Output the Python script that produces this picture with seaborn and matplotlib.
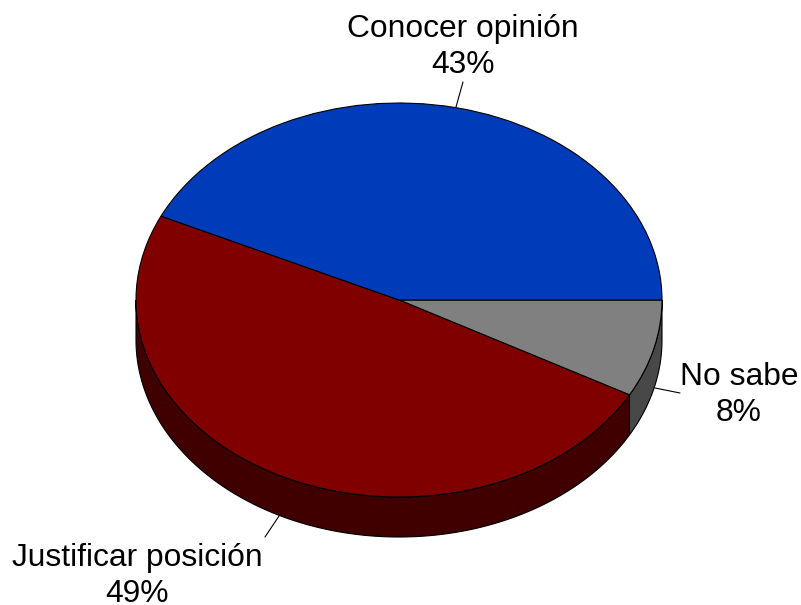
import numpy as np
import matplotlib
matplotlib.use("Agg")
import matplotlib.pyplot as plt
import seaborn as sns

labels = ["No sabe", "Justificar posición", "Conocer opinión"]
values = [8, 49, 43]
top_colors = ["#808080", "#800000", "#003cb9"]
side_colors = ["#484848", "#400000", "#001c5c"]

sns.set_theme(style="white")
plt.rcParams["font.family"] = ["Liberation Sans", "DejaVu Sans"]

# pixel geometry of the reference
W, H = 801, 605
cx, cy, rx, ry, depth = 399, 300, 263, 197, 40

fig = plt.figure(figsize=(W / 100, H / 100), dpi=100)
ax = fig.add_axes([0, 0, 1, 1])

angles = np.concatenate([[0], np.cumsum(values) / np.sum(values) * 360])
d = depth / ry

# side wall, only the part facing the viewer (y axis points down)
for i, c in enumerate(side_colors):
    a0, a1 = angles[i], angles[i + 1]
    if a0 >= 180:
        continue
    t = np.radians(np.linspace(a0, min(a1, 180), 200))
    xs = np.cos(t)
    ys = np.sin(t)
    ax.fill(np.r_[xs, xs[::-1]], np.r_[ys, ys[::-1] + d], fc=c, ec="black", lw=0.8, zorder=1)

wedges, _ = ax.pie(values, colors=top_colors, startangle=0, counterclock=True, radius=1,
                   wedgeprops=dict(edgecolor="black", linewidth=0.8))
for w in wedges:
    w.set_zorder(2)

ax.set_aspect("auto")
ax.set_xlim(-cx / rx, (W - cx) / rx)
ax.set_ylim((H - cy) / ry, -cy / ry)
ax.axis("off")


def to_data(px, py):
    return (px - cx) / rx, (py - cy) / ry


label_pos = [(739, 395), (137, 576), (463, 47)]
leaders = [((655, 388), (680, 393)), ((279, 516), (265, 537)), ((456, 107), (463, 82))]
for name, v, pos, seg in zip(labels, values, label_pos, leaders):
    x, y = to_data(*pos)
    ax.text(x, y, f"{name}\n{v}%", ha="center", va="center", fontsize=22.9, color="black",
            linespacing=1.25, zorder=5)
    a = to_data(*seg[0])
    b = to_data(*seg[1])
    ax.plot([a[0], b[0]], [a[1], b[1]], color="black", lw=0.8, zorder=4)

fig.savefig("out.png", dpi=100, facecolor="white")
